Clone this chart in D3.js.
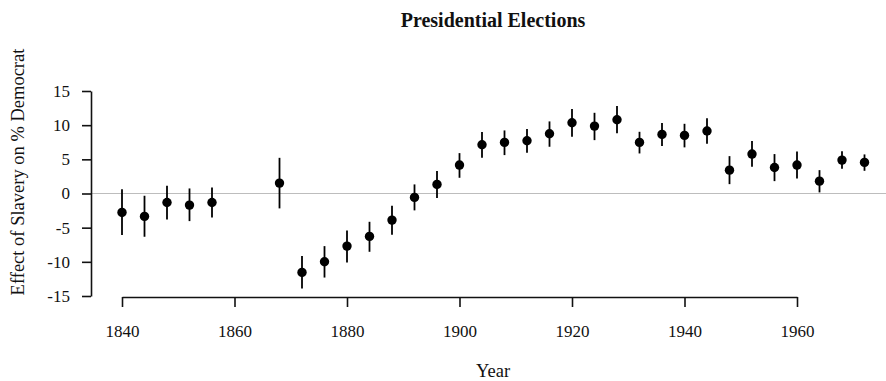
<!DOCTYPE html>
<html>
<head>
<meta charset="utf-8">
<script src="https://cdn.jsdelivr.net/npm/d3@7"></script>
<style>
  html, body { margin: 0; padding: 0; background: #fff; }
  svg { display: block; font-family: "Liberation Serif", "Times New Roman", serif; }
</style>
</head>
<body>
<svg id="chart" width="886" height="381"></svg>
<script>
// Election years and estimated effect (points) with interval bounds
const years = [1840, 1844, 1848, 1852, 1856, 1868, 1872, 1876, 1880, 1884, 1888, 1892, 1896,
               1900, 1904, 1908, 1912, 1916, 1920, 1924, 1928, 1932, 1936, 1940, 1944, 1948,
               1952, 1956, 1960, 1964, 1968, 1972];
const estimate = [-2.77, -3.35, -1.31, -1.70, -1.31, 1.52, -11.55, -9.99, -7.70, -6.28, -3.89, -0.57, 1.33,
                  4.16, 7.13, 7.48, 7.72, 8.74, 10.35, 9.86, 10.80, 7.48, 8.65, 8.50, 9.15, 3.42,
                  5.77, 3.81, 4.16, 1.81, 4.89, 4.55];
const upper = [0.64, -0.33, 1.13, 0.74, 0.89, 5.22, -9.16, -7.70, -5.40, -4.14, -1.80, 1.33, 3.28,
               5.91, 8.99, 9.23, 9.43, 10.55, 12.35, 11.81, 12.79, 9.03, 10.30, 10.20, 11.00, 5.47,
               7.67, 5.77, 6.16, 3.42, 6.20, 5.72];
const lower = [-6.09, -6.33, -3.80, -4.04, -3.50, -2.18, -13.90, -12.30, -10.10, -8.53, -6.04, -2.47, -0.67,
               2.30, 5.23, 5.62, 5.96, 6.84, 8.30, 7.81, 8.80, 5.86, 6.94, 6.75, 7.27, 1.37,
               3.91, 1.81, 2.20, 0.16, 3.61, 3.32];
const xTicks = [1840, 1860, 1880, 1900, 1920, 1940, 1960];
const yTicks = [-15, -10, -5, 0, 5, 10, 15];

const svg = d3.select("#chart");
const x = d3.scaleLinear().domain([1840, 1960]).range([122, 797]);
const y = d3.scaleLinear().domain([-15, 15]).range([296, 91]);

const points = years.map((yr, i) => ({ year: yr, est: estimate[i], lo: lower[i], hi: upper[i] }));

// Title
svg.append("text")
  .attr("x", 493).attr("y", 27)
  .attr("text-anchor", "middle")
  .attr("font-weight", "bold")
  .attr("font-size", 20)
  .attr("fill", "#111")
  .text("Presidential Elections");

// Reference line at zero
svg.append("line")
  .attr("x1", 91).attr("x2", 886)
  .attr("y1", y(0)).attr("y2", y(0))
  .attr("stroke", "#bdbdbd").attr("stroke-width", 1.2);

// Y axis
const yAxis = svg.append("g")
  .attr("transform", "translate(91,0)")
  .call(d3.axisLeft(y).tickValues(yTicks).tickSize(9).tickPadding(12).tickSizeOuter(0)
    .tickFormat(d3.format("d")));
yAxis.select(".domain").attr("stroke", "#111").attr("stroke-width", 1.6);
yAxis.selectAll(".tick line").attr("stroke", "#111").attr("stroke-width", 1.6);
yAxis.selectAll(".tick text")
  .attr("font-family", "Liberation Serif, serif")
  .attr("font-size", 17).attr("fill", "#111")
  .text(d => d < 0 ? "-" + Math.abs(d) : d);

// X axis
const xAxis = svg.append("g")
  .attr("transform", "translate(0,297)")
  .call(d3.axisBottom(x).tickValues(xTicks).tickSize(10).tickSizeOuter(0)
    .tickFormat(d3.format("d")));
xAxis.select(".domain").attr("stroke", "#111").attr("stroke-width", 1.6);
xAxis.selectAll(".tick line").attr("stroke", "#111").attr("stroke-width", 1.6);
xAxis.selectAll(".tick text")
  .attr("font-family", "Liberation Serif, serif")
  .attr("font-size", 17).attr("fill", "#111")
  .attr("y", 40).attr("dy", null);

// Axis titles
svg.append("text")
  .attr("x", 493).attr("y", 377)
  .attr("text-anchor", "middle")
  .attr("font-size", 18.5).attr("fill", "#111")
  .text("Year");

svg.append("text")
  .attr("transform", "translate(24,172) rotate(-90)")
  .attr("text-anchor", "middle")
  .attr("font-size", 18.5).attr("fill", "#111")
  .text("Effect of Slavery on % Democrat");

// Interval bars
svg.append("g").selectAll("line")
  .data(points).join("line")
  .attr("x1", d => x(d.year)).attr("x2", d => x(d.year))
  .attr("y1", d => y(d.hi)).attr("y2", d => y(d.lo))
  .attr("stroke", "#000").attr("stroke-width", 1.8);

// Point estimates
svg.append("g").selectAll("circle")
  .data(points).join("circle")
  .attr("cx", d => x(d.year)).attr("cy", d => y(d.est))
  .attr("r", 4.7)
  .attr("fill", "#000");
</script>
</body>
</html>
